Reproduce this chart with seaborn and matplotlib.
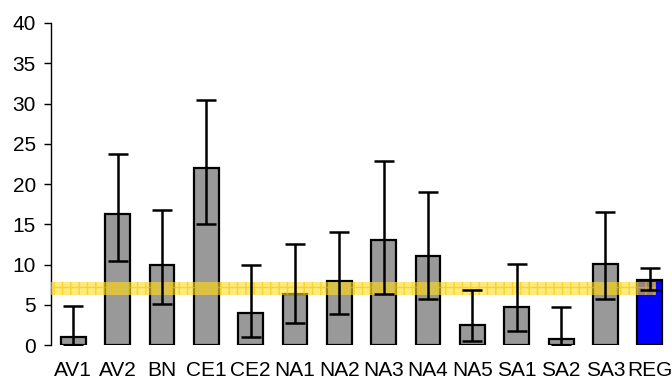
import numpy as np
import pandas as pd
import matplotlib
matplotlib.use('Agg')
import matplotlib.pyplot as plt
import seaborn as sns

sites = ['AV1', 'AV2', 'BN', 'CE1', 'CE2', 'NA1', 'NA2', 'NA3', 'NA4', 'NA5',
         'SA1', 'SA2', 'SA3', 'REG']
means = [1.0, 16.3, 10.0, 22.0, 4.0, 6.4, 8.0, 13.1, 11.1, 2.45, 4.7, 0.7, 10.1, 8.1]
upper = [4.9, 23.7, 16.8, 30.4, 9.9, 12.5, 14.1, 22.9, 19.0, 6.9, 10.1, 4.7, 16.5, 9.6]
lower = [0.0, 10.4, 5.1, 15.0, 1.0, 2.7, 3.9, 6.4, 5.7, 0.5, 1.7, 0.0, 5.7, 6.9]
band_low, band_high = 6.2, 7.85

colors = ['#999999'] * 13 + ['#0000ff']

df = pd.DataFrame({'site': sites, 'value': means})

sns.set_style('white')
plt.rcParams['font.family'] = ['Liberation Sans', 'DejaVu Sans']

fig = plt.figure(figsize=(6.72, 3.83), dpi=100)
ax = fig.add_axes([0.076, 0.099, 0.924, 0.841])

sns.barplot(data=df, x='site', y='value', hue='site', palette=colors, legend=False,
            width=0.56, edgecolor='black', linewidth=1.6, saturation=1, ax=ax, zorder=2)

x = np.arange(len(sites))
yerr = [np.array(means) - np.array(lower), np.array(upper) - np.array(means)]

# shaded band (regional reference range)
ax.fill_between([-0.5, 13.14], band_low, band_high, facecolor='#ffdd22', alpha=0.6,
                hatch='++', edgecolor='#f2c200', linewidth=0, zorder=3)

ax.errorbar(x, means, yerr=yerr, fmt='none', ecolor='black', elinewidth=1.8,
            capsize=7, capthick=1.8, zorder=4)

ax.set_xlim(-0.5, 13.5)
ax.set_ylim(0, 40)
ax.set_yticks(range(0, 41, 5))
ax.set_xlabel('')
ax.set_ylabel('')
for s in ['top', 'right', 'bottom']:
    ax.spines[s].set_visible(False)
ax.spines['left'].set_color('black')
ax.spines['left'].set_linewidth(1)
ax.tick_params(axis='y', which='both', left=True, length=5, width=1, labelsize=15,
               pad=6, color='black', labelcolor='black')
ax.tick_params(axis='x', bottom=False, labelsize=15, pad=8, labelcolor='black')

fig.savefig('out.png', dpi=100)
